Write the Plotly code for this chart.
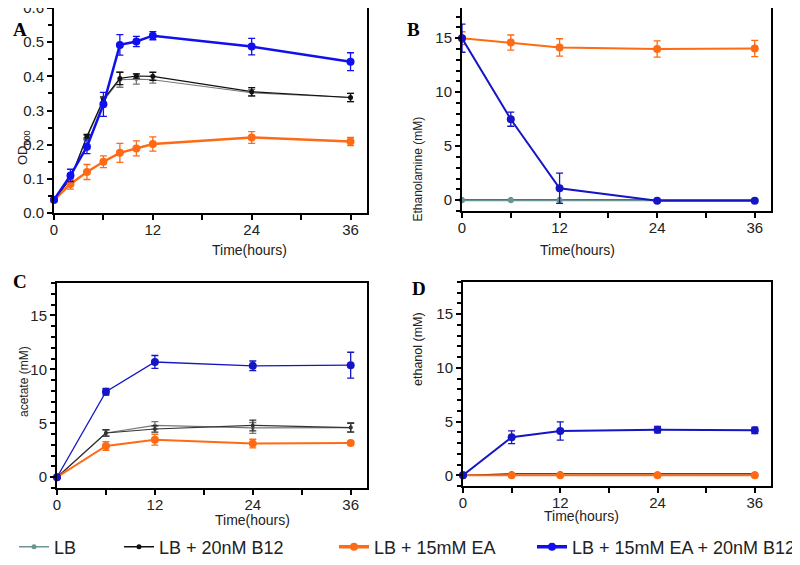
import plotly.graph_objects as go

# ---- data ----
labels = ["LB", "LB + 20nM B12", "LB + 15mM EA", "LB + 15mM EA + 20nM B12"]

t_a = [0, 2, 4, 6, 8, 10, 12, 24, 36]
od_lb = [0.040, 0.100, 0.222, 0.328, 0.390, 0.392, 0.390, 0.352, 0.338]
od_lb_err = [0.003, 0.005, 0.005, 0.008, 0.022, 0.015, 0.010, 0.010, 0.012]
od_b12 = [0.040, 0.100, 0.225, 0.332, 0.394, 0.401, 0.400, 0.355, 0.338]
od_b12_err = [0.003, 0.005, 0.005, 0.008, 0.018, 0.006, 0.012, 0.012, 0.012]
od_ea = [0.038, 0.085, 0.120, 0.150, 0.176, 0.189, 0.202, 0.221, 0.209]
od_ea_err = [0.004, 0.015, 0.022, 0.017, 0.028, 0.022, 0.021, 0.017, 0.012]
od_eab = [0.039, 0.110, 0.194, 0.318, 0.492, 0.502, 0.519, 0.487, 0.443]
od_eab_err = [0.004, 0.018, 0.020, 0.035, 0.030, 0.015, 0.012, 0.024, 0.026]

t_b = [0, 6, 12, 24, 36]
etn_lb = [0.0, 0.0, 0.0, 0.0, 0.0]
etn_b12 = [0.05, 0.05, 0.05, 0.05, 0.05]
etn_ea = [15.0, 14.6, 14.15, 14.0, 14.05]
etn_ea_err = [0.6, 0.7, 0.8, 0.75, 0.75]
etn_eab = [15.0, 7.5, 1.1, -0.05, -0.05]
etn_eab_err = [1.3, 0.65, 1.4, 0.05, 0.05]

ace_lb = [0.0, 4.10, 4.80, 4.57, 4.60]
ace_lb_err = [0.1, 0.3, 0.35, 0.5, 0.45]
ace_b12 = [0.0, 4.10, 4.47, 4.80, 4.60]
ace_b12_err = [0.1, 0.3, 0.3, 0.5, 0.4]
ace_ea = [0.0, 2.90, 3.48, 3.12, 3.17]
ace_ea_err = [0.1, 0.4, 0.5, 0.4, 0.15]
ace_eab = [0.0, 7.92, 10.68, 10.32, 10.38]
ace_eab_err = [0.1, 0.3, 0.6, 0.45, 1.2]

eth_lb = [0.0, 0.0, 0.0, 0.0, 0.0]
eth_b12 = [0.0, 0.14, 0.14, 0.12, 0.12]
eth_ea = [0.0, 0.0, 0.0, 0.0, 0.0]
eth_eab = [0.0, 3.54, 4.13, 4.25, 4.19]
eth_eab_err = [0.05, 0.6, 0.85, 0.3, 0.3]

COLORS = ["#6b9494", "#111111", "#ff6a14", "#1010ee"]
BLUE_DARK = "#1515c4"
FONT = "Liberation Sans"

fig = go.Figure()


def add_series(x, y, err, color, width, msize, panel):
    xs = "x" if panel == 1 else f"x{panel}"
    ys = "y" if panel == 1 else f"y{panel}"
    fig.add_trace(go.Scatter(
        x=x, y=y, mode="lines+markers", xaxis=xs, yaxis=ys, showlegend=False,
        line=dict(color=color, width=width),
        marker=dict(color=color, size=msize),
        error_y=dict(type="data", array=err, visible=err is not None,
                     color=color, thickness=1.3, width=3.5),
        cliponaxis=False,
    ))


# A: OD600
add_series(t_a, od_lb, od_lb_err, "#777777", 1.2, 4, 1)
add_series(t_a, od_b12, od_b12_err, COLORS[1], 1.2, 5, 1)
add_series(t_a, od_ea, od_ea_err, COLORS[2], 2.5, 8, 1)
add_series(t_a, od_eab, od_eab_err, COLORS[3], 2.5, 8, 1)

# B: ethanolamine
add_series(t_b, etn_b12, None, COLORS[1], 1.2, 5, 2)
add_series(t_b, etn_lb, None, COLORS[0], 2, 6, 2)
add_series(t_b, etn_ea, etn_ea_err, COLORS[2], 2, 8, 2)
add_series(t_b, etn_eab, etn_eab_err, BLUE_DARK, 2, 8, 2)

# C: acetate
add_series(t_b, ace_lb, ace_lb_err, "#777777", 1.2, 4, 3)
add_series(t_b, ace_b12, ace_b12_err, "#333333", 1.2, 4, 3)
add_series(t_b, ace_ea, ace_ea_err, COLORS[2], 2, 8, 3)
add_series(t_b, ace_eab, ace_eab_err, BLUE_DARK, 1.3, 8, 3)

# D: ethanol
add_series(t_b, eth_lb, None, COLORS[0], 1.2, 5, 4)
add_series(t_b, eth_b12, None, COLORS[1], 1.2, 5, 4)
add_series(t_b, eth_ea, None, COLORS[2], 2, 8, 4)
add_series(t_b, eth_eab, eth_eab_err, BLUE_DARK, 2, 8, 4)

# full-size figure lands 8px right/down on the page, so positions are shifted back by OFF
OFF = 8
W, H = 800, 565


def px(x):
    return min(1.0, max(0.0, (x - OFF) / W))


def py(y):
    return min(1.0, max(0.0, 1 - (y - OFF) / H))


# legend-only entries, one legend each so they can sit where the original has them
text_start = [55, 160, 375, 573]
legends = {}
for i, c in enumerate(COLORS):
    key = "legend" if i == 0 else f"legend{i + 1}"
    fig.add_trace(go.Scatter(
        x=[None], y=[None], mode="lines+markers", name=labels[i], legend=key,
        line=dict(color=c, width=1.5 if i < 2 else 3.5),
        marker=dict(color=c, size=5 if i < 2 else 8),
    ))
    legends[key] = dict(
        x=px(text_start[i] - 41), y=py(547), xanchor="left", yanchor="middle",
        orientation="h", bgcolor="rgba(0,0,0,0)",
        font=dict(family=FONT, size=18, color="#222222"),
    )

boxes = {  # left, right, top, bottom in page px
    1: (54, 367, 8, 213),
    2: (462, 771, 8, 211),
    3: (57, 367, 283, 488),
    4: (463, 771, 282, 486),
}

axis_common = dict(
    showline=True, linecolor="black", linewidth=2, mirror=True,
    ticks="outside", ticklen=5, tickwidth=1.5, tickcolor="black",
    showgrid=False, zeroline=False, automargin=False, ticklabeloverflow="allow",
    tickfont=dict(family=FONT, size=15, color="#222222"),
)

layout = {}
for p, (l, r, t, b) in boxes.items():
    sx = "" if p == 1 else str(p)
    layout[f"xaxis{sx}"] = dict(
        axis_common, domain=[px(l), px(r)], range=[0, 38],
        anchor=f"y{sx}", tickvals=[0, 12, 24, 36], ticklabelstandoff=-3,
        minor=dict(tickvals=[6, 18, 30], ticks="outside", ticklen=5,
                   tickwidth=1.5, tickcolor="black"),
    )
    ydict = dict(axis_common, domain=[py(b), py(t)], anchor=f"x{sx}")
    if p == 1:
        ydict.update(range=[0, 0.6], tickvals=[0, 0.1, 0.2, 0.3, 0.4, 0.5, 0.6],
                     tickformat=".1f",
                     minor=dict(dtick=0.05, ticks="outside", ticklen=4,
                                tickwidth=1.5, tickcolor="black"))
    elif p == 2:
        ydict.update(range=[-1, 17.8], tickvals=[0, 5, 10, 15],
                     minor=dict(tick0=-1, dtick=1, ticks="outside", ticklen=4,
                                tickwidth=1.5, tickcolor="black"))
    else:
        ydict.update(range=[-1, 18], tickvals=[0, 5, 10, 15],
                     minor=dict(tick0=-1, dtick=1, ticks="outside", ticklen=4,
                                tickwidth=1.5, tickcolor="black"))
    layout[f"yaxis{sx}"] = ydict

annots = []
for txt, x, y in [("A", 11, 17), ("B", 414, 17), ("C", 11, 281), ("D", 419, 288)]:
    annots.append(dict(text=f"<b>{txt}</b>", x=px(x), y=py(y), xref="paper", yref="paper",
                       showarrow=False, font=dict(family="Liberation Serif", size=19, color="black")))
for x, y in [(210, 250), (617, 250), (213, 530), (621, 526)]:
    annots.append(dict(text="Time(hours)", x=px(x), y=py(y), xref="paper", yref="paper",
                       showarrow=False, font=dict(family=FONT, size=14, color="#222222")))
for txt, x, y, s in [("OD<sub>600</sub>", 13, 128, 13), ("Ethanolamine (mM)", 417, 115, 12),
                     ("acetate (mM)", 15, 382, 12), ("ethanol (mM)", 418, 388, 12.5)]:
    annots.append(dict(text=txt, x=px(x), y=py(y), xref="paper", yref="paper",
                       textangle=-90, showarrow=False,
                       font=dict(family=FONT, size=s, color="#222222")))

fig.update_layout(
    **layout,
    **legends,
    annotations=annots,
    width=W, height=H,
    # fixed panel boxes: nothing may push the margins
    margin=dict(l=0, r=0, t=0, b=0, autoexpand=False),
    plot_bgcolor="white", paper_bgcolor="white",
)

fig.write_html("out.html")
